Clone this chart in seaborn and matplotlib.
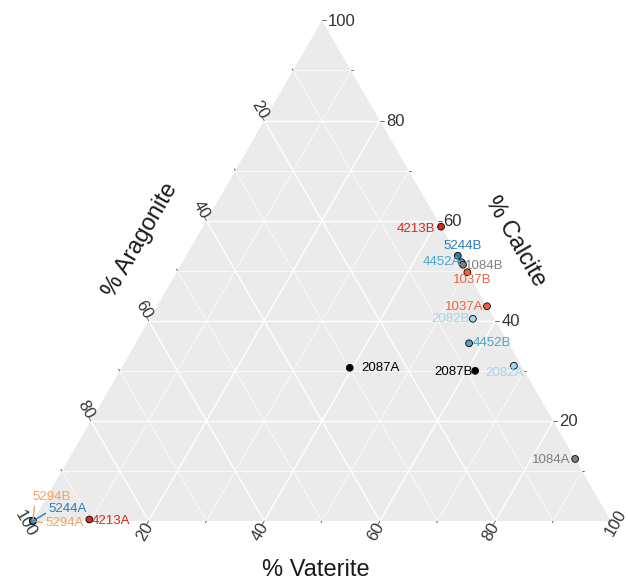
import numpy as np
import pandas as pd
import matplotlib
matplotlib.use("Agg")
import matplotlib.pyplot as plt
import seaborn as sns

# Carbonate polymorph composition (%) for each sample
samples = ["4213B", "5244B", "4452A", "1084B", "1037B", "1037A", "2082B", "4452B",
           "2082A", "2087B", "2087A", "1084A", "4213A", "5294B", "5294A", "5244A"]
calcite = [58.8, 53.0, 51.7, 51.2, 49.7, 42.9, 40.4, 35.5,
           31.0, 30.0, 30.6, 12.4, 0.3, 0.0, 0.0, 0.0]
vaterite = [41.2, 47.0, 48.3, 48.8, 50.3, 57.1, 55.9, 57.7,
            67.7, 61.5, 39.5, 87.6, 9.6, 0.0, 0.0, 0.0]
aragonite = [0.0, 0.0, 0.0, 0.0, 0.0, 0.0, 3.7, 6.8,
             1.3, 8.5, 29.9, 0.0, 90.1, 100.0, 100.0, 100.0]

axis_ticks = [20, 40, 60, 80, 100]

site_colors = {"4213": "#D42A20", "5244": "#2C7BB6", "4452": "#4AA6CC",
               "1084": "#7F7F7F", "1037": "#E9643F", "2082": "#9FD7EB",
               "2087": "#000000", "5294": "#F2A35A"}

# label placement: (dx px, dy px, horizontal alignment)
label_style = {
    "4213B": (-6, -2, "right"), "5244B": (5, 10, "center"),
    "4452A": (-1, 0, "right"), "1084B": (2, -1, "left"),
    "1037B": (5, -8, "center"), "1037A": (-4, -1, "right"),
    "2082B": (-3, 0, "right"), "4452B": (4, 0, "left"),
    "2082A": (-9, -7, "center"), "2087B": (-2, -1, "right"),
    "2087A": (12, 0, "left"), "1084A": (-5, -1, "right"),
    "4213A": (2, -2, "left"), "5294B": (19, 24, "center"),
    "5244A": (35, 12, "center"), "5294A": (32, -2, "center"),
}
leader = {"5294B": (0.05, 0.0), "5244A": (0.0, 0.3), "5294A": (0.0, 0.5)}

H = np.sqrt(3) / 2


def tern(c, v):
    """Cartesian position for calcite (top) / vaterite (bottom right) percentages."""
    c = np.asarray(c, float) / 100
    v = np.asarray(v, float) / 100
    return v + c / 2, c * H


df = pd.DataFrame({"sample": samples, "Calcite": calcite,
                   "Vaterite": vaterite, "Aragonite": aragonite})
df["site"] = df["sample"].str[:4]
df["x"], df["y"] = tern(df["Calcite"], df["Vaterite"])

sns.set_theme(style="white")
plt.rcParams["font.family"] = ["Liberation Sans", "DejaVu Sans"]

W, Hpx = 628, 581
fig = plt.figure(figsize=(W / 100, Hpx / 100), dpi=100)
ax = fig.add_axes([0, 0, 1, 1])
scale = 578.0          # pixels per unit side
x0, ybase = 33.0, 521.0
ax.set_xlim(-x0 / scale, (W - x0) / scale)
ax.set_ylim(-(Hpx - ybase) / scale, ybase / scale)
ax.axis("off")

# panel
ax.fill([0, 1, 0.5], [0, 0, H], color="#EBEBEB", zorder=0, lw=0)

# grid lines
for g in range(10, 100, 10):
    major = g % 20 == 0
    lw = 1.0 if major else 0.5
    f = g / 100
    # calcite = const (horizontal)
    ax.plot([f / 2, 1 - f / 2], [f * H, f * H], color="white", lw=lw, zorder=1)
    # vaterite = const (parallel to left edge)
    ax.plot([f, f + (1 - f) / 2], [0, (1 - f) * H], color="white", lw=lw, zorder=1)
    # aragonite = const (parallel to right edge)
    ax.plot([(1 - f) / 2, 1 - f], [(1 - f) * H, 0], color="white", lw=lw, zorder=1)

# ticks outside the panel
tick_col = "#555555"
for g in range(10, 101, 10):
    f = g / 100
    L = (4 if g % 20 == 0 else 2) / scale
    # right axis: calcite
    px, py = 1 - f / 2, f * H
    ax.plot([px, px + L], [py, py], color=tick_col, lw=0.6, zorder=1)
    # bottom axis: vaterite
    px, py = f, 0
    ax.plot([px, px - 0.5 * L], [py, py - H * L], color=tick_col, lw=0.6, zorder=1)
    # left axis: aragonite
    px, py = (1 - f) / 2, (1 - f) * H
    ax.plot([px, px - 0.5 * L], [py, py + H * L], color=tick_col, lw=0.6, zorder=1)

tk = dict(fontsize=12, color="#333333", textcoords="offset pixels",
          rotation_mode="anchor", annotation_clip=False)
for g in axis_ticks:
    f = g / 100
    ax.annotate(str(g), (1 - f / 2, f * H), xytext=(6, -1),
                ha="left", va="center", **tk)
    off = (5, -2) if g == 100 else (-4, -11)
    ax.annotate(str(g), (f, 0), xytext=off, ha="center", va="center",
                rotation=60, **tk)
    off = (-7, -3) if g == 100 else (-5, 11)
    ax.annotate(str(g), ((1 - f) / 2, (1 - f) * H), xytext=off,
                ha="center", va="center", rotation=-60, **tk)

# samples
sns.scatterplot(data=df, x="x", y="y", hue="site", palette=site_colors,
                s=24, edgecolor="black", linewidth=0.6, legend=False,
                ax=ax, zorder=5)

for _, r in df.iterrows():
    dx, dy, ha = label_style[r["sample"]]
    col = site_colors[r["site"]]
    kw = {}
    if r["sample"] in leader:
        kw["arrowprops"] = dict(arrowstyle="-", color=col, lw=1.0,
                                shrinkA=0, shrinkB=0,
                                relpos=leader[r["sample"]])
    ax.annotate(r["sample"], (r["x"], r["y"]), xytext=(dx, dy),
                textcoords="offset pixels", ha=ha, va="center",
                fontsize=9.5, color=col, zorder=6, annotation_clip=False, **kw)

# axis titles
tt = dict(fontsize=17, color="#1A1A1A", ha="center", va="center")
fig.text(316 / W, 1 - 570 / Hpx, "% Vaterite", **tt)
fig.text(140 / W, 1 - 240 / Hpx, "% Aragonite", rotation=60, **tt)
fig.text(515 / W, 1 - 241 / Hpx, "% Calcite", rotation=-60, **tt)

fig.savefig("out.png", dpi=100)
